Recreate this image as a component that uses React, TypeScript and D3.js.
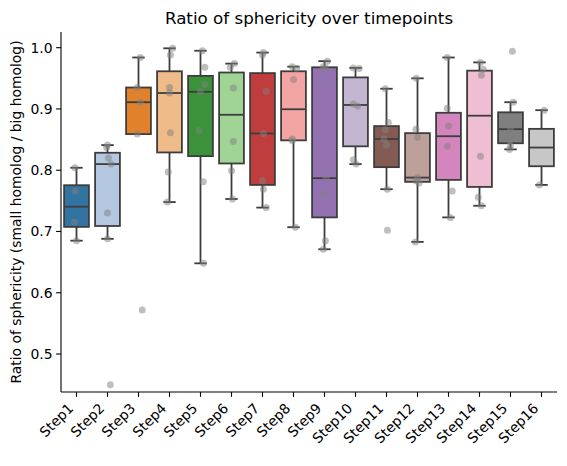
import React from 'react';
import * as d3 from 'd3';

const steps = [
  'Step1', 'Step2', 'Step3', 'Step4', 'Step5', 'Step6', 'Step7', 'Step8',
  'Step9', 'Step10', 'Step11', 'Step12', 'Step13', 'Step14', 'Step15', 'Step16',
];

// sphericity ratio per sample, one array per timepoint
const step1 = [0.804, 0.766, 0.715, 0.685];
const step2 = [0.841, 0.837, 0.82, 0.81, 0.73, 0.688, 0.45];
const step3 = [0.984, 0.935, 0.911, 0.859, 0.572];
const step4 = [0.999, 0.988, 0.935, 0.926, 0.861, 0.797, 0.748];
const step5 = [0.995, 0.968, 0.94, 0.928, 0.865, 0.781, 0.648];
const step6 = [0.974, 0.968, 0.934, 0.847, 0.799, 0.753];
const step7 = [0.992, 0.988, 0.929, 0.86, 0.783, 0.769, 0.739];
const step8 = [0.969, 0.966, 0.948, 0.851, 0.848, 0.707];
const step9 = [0.978, 0.969, 0.967, 0.787, 0.761, 0.685, 0.671];
const step10 = [0.967, 0.966, 0.908, 0.905, 0.817, 0.81];
const step11 = [0.933, 0.878, 0.866, 0.851, 0.841, 0.769, 0.702];
const step12 = [0.95, 0.867, 0.854, 0.788, 0.783, 0.779, 0.683];
const step13 = [0.984, 0.901, 0.872, 0.839, 0.766, 0.723];
const step14 = [0.976, 0.965, 0.955, 0.823, 0.756, 0.742];
const step15 = [0.994, 0.911, 0.878, 0.867, 0.848, 0.84, 0.834];
const step16 = [0.898, 0.776];

const samples = [
  step1, step2, step3, step4, step5, step6, step7, step8,
  step9, step10, step11, step12, step13, step14, step15, step16,
];

// strip jitter, as a fraction of the band width
const jitter = [
  [-0.05, -0.04, -0.07, 0.0],
  [0, -0.03, 0.03, 0.11, 0, 0, 0.09],
  [0.06, -0.04, 0.06, -0.04, 0.12],
  [0.1, 0.03, 0, 0, 0.03, -0.04, -0.07],
  [0.06, 0.14, 0.14, 0, -0.04, 0.09, 0.1],
  [0.09, -0.04, 0.06, 0.06, 0, 0.03],
  [0.03, 0, 0.12, 0.03, 0, 0.03, 0.12],
  [-0.04, 0.1, 0, -0.04, -0.04, 0.06],
  [0.09, -0.04, 0.04, 0.05, -0.04, 0.03, -0.04],
  [-0.07, 0.12, -0.07, 0.07, -0.07, 0.02],
  [-0.04, 0.06, -0.04, -0.08, 0, 0.03, 0.03],
  [-0.04, -0.05, 0, 0, -0.05, 0.05, -0.07],
  [-0.04, -0.04, 0, -0.04, 0.12, 0.06],
  [0.03, 0.12, 0.06, 0.03, -0.04, 0.06],
  [0.06, 0.09, 0.02, 0, -0.03, 0, -0.03],
  [0.09, -0.07],
];

const yTicks = [0.5, 0.6, 0.7, 0.8, 0.9, 1.0];

const palette = [
  '#1f77b4', '#aec7e8', '#ff7f0e', '#ffbb78', '#2ca02c', '#98df8a', '#d62728', '#ff9896',
  '#9467bd', '#c5b0d5', '#8c564b', '#c49c94', '#e377c2', '#f7b6d2', '#7f7f7f', '#c7c7c7',
];

const W = 567;
const H = 466;
const margin = { top: 32, right: 10, bottom: 74, left: 61 };
const FONT = 'DejaVu Sans, sans-serif';
const LINE = '#3d3d3d';

// seaborn-style desaturation of the box fills
const desat = (c: string, amt = 0.75) => {
  const h = d3.hsl(c);
  h.s *= amt;
  return h.formatHex();
};

const boxStats = (vals: number[]) => {
  const s = [...vals].sort(d3.ascending);
  const q1 = d3.quantile(s, 0.25) as number;
  const med = d3.quantile(s, 0.5) as number;
  const q3 = d3.quantile(s, 0.75) as number;
  const iqr = q3 - q1;
  const lo = d3.min(s.filter((v) => v >= q1 - 1.5 * iqr)) as number;
  const hi = d3.max(s.filter((v) => v <= q3 + 1.5 * iqr)) as number;
  return { q1, med, q3, lo, hi };
};

const App: React.FC = () => {
  const x = d3
    .scaleBand<string>()
    .domain(steps)
    .range([margin.left, W - margin.right])
    .padding(0);
  const y = d3
    .scaleLinear()
    .domain([0.438, 1.0256])
    .range([H - margin.bottom, margin.top]);

  const bw = x.bandwidth();
  const boxW = bw * 0.8;
  const capW = boxW * 0.5;
  const axisY = H - margin.bottom;

  return (
    <svg
      width={W}
      height={H}
      style={{ position: 'absolute', left: 0, top: 0, background: '#fff' }}
      fontFamily={FONT}
    >
      <text
        x={(margin.left + W - margin.right) / 2}
        y={23.7}
        textAnchor="middle"
        fontSize={16.7}
        fill="#000"
      >
        Ratio of sphericity over timepoints
      </text>

      {steps.map((s, i) => {
        const st = boxStats(samples[i]);
        const cx = (x(s) as number) + bw / 2;
        return (
          <g key={s}>
            <line x1={cx} x2={cx} y1={y(st.q3)} y2={y(st.hi)} stroke={LINE} strokeWidth={1.8} />
            <line x1={cx} x2={cx} y1={y(st.q1)} y2={y(st.lo)} stroke={LINE} strokeWidth={1.8} />
            <line x1={cx - capW / 2} x2={cx + capW / 2} y1={y(st.hi)} y2={y(st.hi)} stroke={LINE} strokeWidth={1.8} />
            <line x1={cx - capW / 2} x2={cx + capW / 2} y1={y(st.lo)} y2={y(st.lo)} stroke={LINE} strokeWidth={1.8} />
            <rect
              x={cx - boxW / 2}
              y={y(st.q3)}
              width={boxW}
              height={y(st.q1) - y(st.q3)}
              fill={desat(palette[i])}
              stroke={LINE}
              strokeWidth={1.8}
            />
            <line x1={cx - boxW / 2} x2={cx + boxW / 2} y1={y(st.med)} y2={y(st.med)} stroke={LINE} strokeWidth={1.8} />
          </g>
        );
      })}

      {steps.map((s, i) => {
        const cx = (x(s) as number) + bw / 2;
        return (
          <g key={`pts-${s}`}>
            {samples[i].map((v, j) => (
              <circle
                key={j}
                cx={cx + jitter[i][j] * bw}
                cy={y(v)}
                r={3.5}
                fill="#808080"
                fillOpacity={0.5}
              />
            ))}
          </g>
        );
      })}

      {/* left axis */}
      <line x1={margin.left} x2={margin.left} y1={margin.top} y2={axisY} stroke="#000" strokeWidth={1.1} />
      {yTicks.map((t) => (
        <g key={t} transform={`translate(${margin.left},${y(t)})`}>
          <line x1={-4.9} x2={0} stroke="#000" strokeWidth={1.1} />
          <text x={-8.4} dy="0.36em" textAnchor="end" fontSize={13.9} fill="#000">
            {t.toFixed(1)}
          </text>
        </g>
      ))}
      <text
        transform={`translate(20.5,${(margin.top + axisY) / 2}) rotate(-90)`}
        textAnchor="middle"
        fontSize={13.9}
        fill="#000"
      >
        Ratio of sphericity (small homolog / big homolog)
      </text>

      {/* bottom axis */}
      <line x1={margin.left} x2={W - margin.right} y1={axisY} y2={axisY} stroke="#000" strokeWidth={1.1} />
      {steps.map((s) => {
        const cx = (x(s) as number) + bw / 2;
        return (
          <g key={`tick-${s}`}>
            <line x1={cx} x2={cx} y1={axisY} y2={axisY + 4.9} stroke="#000" strokeWidth={1.1} />
            <text
              transform={`translate(${cx - 2.3},${axisY + 17.3}) rotate(-45)`}
              textAnchor="end"
              fontSize={13.9}
              fill="#000"
            >
              {s}
            </text>
          </g>
        );
      })}
    </svg>
  );
};

export default App;
